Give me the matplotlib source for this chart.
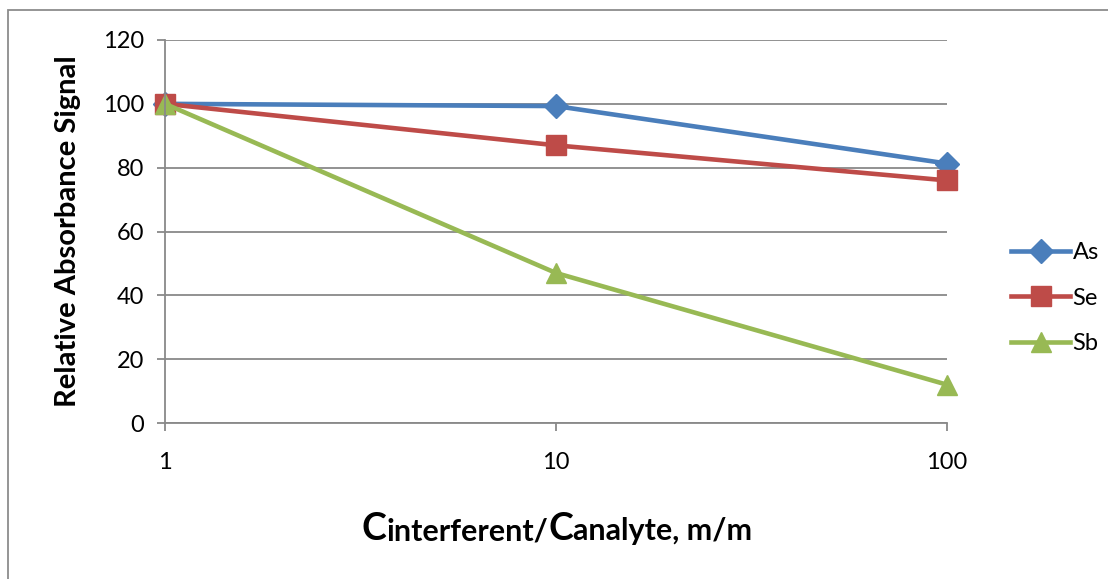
import matplotlib
matplotlib.use("Agg")
import matplotlib.pyplot as plt
from matplotlib.patches import Rectangle

plt.rcParams['font.family'] = ['Lato', 'DejaVu Sans']

ratio = [1, 10, 100]
as_vals = [100, 99.3, 81.3]
se_vals = [100, 87, 76]
sb_vals = [100, 47, 12]
y_ticks = [0, 20, 40, 60, 80, 100, 120]

grid_col = '#898989'

fig = plt.figure(figsize=(11.08, 5.79), dpi=100)
ax = fig.add_axes([165 / 1108, 1 - 423 / 579, 782 / 1108, 383 / 579])

# outer chart border (only top/left visible in the crop)
fig.patches.append(Rectangle((8 / 1108, -0.1), 1.2, 1 - 10 / 579 + 0.1,
                             transform=fig.transFigure, fill=False,
                             edgecolor='#8c8c8c', lw=1.3))

ax.plot(ratio, as_vals, color='#4A7EBB', lw=3.3, marker='D', ms=12, label='As', clip_on=False)
ax.plot(ratio, se_vals, color='#BE4B48', lw=3.3, marker='s', ms=14, label='Se', clip_on=False)
ax.plot(ratio, sb_vals, color='#98B954', lw=3.3, marker='^', ms=15, label='Sb', clip_on=False)

ax.set_xscale('log')
ax.set_xlim(1, 100)
ax.set_ylim(0, 120)
ax.set_xticks(ratio)
ax.set_xticklabels(['1', '10', '100'])
ax.minorticks_off()
ax.set_yticks(y_ticks)
ax.yaxis.grid(True, color=grid_col, lw=1.3)
ax.set_axisbelow(True)
for s in ['top', 'right']:
    ax.spines[s].set_visible(False)
for s in ['left', 'bottom']:
    ax.spines[s].set_color(grid_col)
    ax.spines[s].set_linewidth(1.3)
ax.tick_params(axis='both', colors=grid_col, labelcolor='black', width=1.3,
               length=6, labelsize=17)
ax.tick_params(axis='x', pad=15)
ax.tick_params(axis='y', pad=9)

ax.set_ylabel('Relative Absorbance Signal', fontsize=21, fontweight='bold',
              labelpad=16)

leg = ax.legend(loc='center left', bbox_to_anchor=(1.055, 0.326), frameon=False,
                fontsize=17, handlelength=2.5, handletextpad=0.1, labelspacing=1.05)

# x label with larger C's
pieces = [('C', 27), ('interferent/', 22), ('C', 27), ('analyte, m/m', 22)]
fig.canvas.draw()
r = fig.canvas.get_renderer()
texts = []
for s, fs in pieces:
    texts.append(fig.text(0, 1 - 540 / 579, s, fontsize=fs,
                          fontweight='bold', va='baseline', ha='left'))
widths = [t.get_window_extent(r).width for t in texts]
x0 = 557 - sum(widths) / 2
for t, w in zip(texts, widths):
    t.set_x(x0 / 1108)
    x0 += w

fig.savefig('out.png', dpi=100)
